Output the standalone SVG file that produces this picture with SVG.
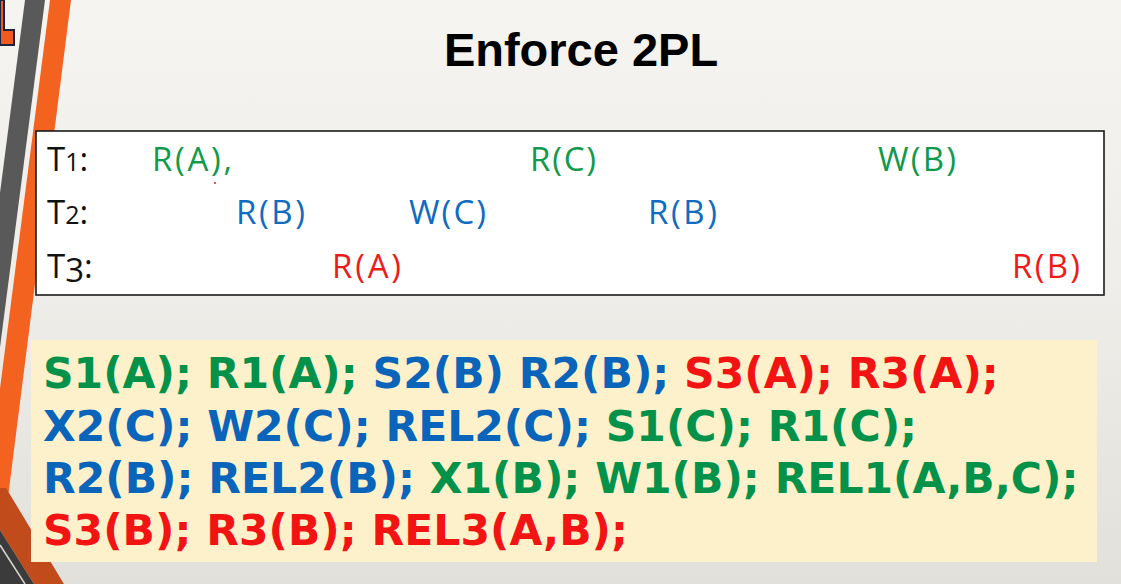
<svg xmlns="http://www.w3.org/2000/svg" width="1121" height="584" viewBox="0 0 1121 584">
  <defs>
    <linearGradient id="bg" x1="0" y1="0" x2="0" y2="1">
      <stop offset="0" stop-color="#f5f4f1"/>
      <stop offset="0.5" stop-color="#eeede9"/>
      <stop offset="1" stop-color="#e2e0db"/>
    </linearGradient>
    <style>
      .title { font-family: "Liberation Sans", Arial, sans-serif; font-weight: bold; font-size: 47px; fill: #000; }
      .lbl { font-family: "Open Sans", "Noto Sans", sans-serif; font-size: 33px; }
      .tx { fill: #111; }
      .g { fill: #119a4c; }
      .b { fill: #0f6cc0; }
      .r { fill: #ee1b1b; }
      .sched { font-family: "DejaVu Sans", Verdana, sans-serif; font-weight: bold; font-size: 42.5px; }
      .sg { fill: #04924a; }
      .sb { fill: #0a64b9; }
      .sr { fill: #f21313; }
    </style>
  </defs>

  <!-- slide background -->
  <rect width="1121" height="584" fill="url(#bg)"/>

  <!-- left decorative stripes -->
  <g id="decor">
    <path d="M0,0 H4 V30 H14 V45 H0 Z" fill="#f05a1e" stroke="#1c2440" stroke-width="2"/>
    <polygon points="25,0 45,0 -12,440 -32,440" fill="#595959"/>
    <polygon points="50,0 71,0 7,505 -15,505" fill="#f4621f"/>
    <polygon points="0,488 6,488 64,584 34,584 0,530" fill="#c24b1b"/>
    <polygon points="0,530 34,584 0,584" fill="#3b3b3b"/>
    <line x1="0" y1="545" x2="25" y2="584" stroke="#d9d6d0" stroke-width="1.5"/>
  </g>

  <!-- heading -->
  <text class="title" x="581" y="66" text-anchor="middle">Enforce 2PL</text>

  <!-- transaction operations table -->
  <g id="table">
    <rect x="36" y="131" width="1068" height="164" fill="#ffffff" stroke="#1a1a1a" stroke-width="1.6"/>
    <text class="lbl tx" x="47" y="171">T<tspan font-size="25">1</tspan>:</text>
    <text class="lbl tx" x="47" y="224">T<tspan font-size="25">2</tspan>:</text>
    <text class="lbl tx" x="47" y="278">T<tspan dy="4">3</tspan><tspan dy="-4">:</tspan></text>

    <g id="t1-ops">
      <text class="lbl g" x="152" y="171" textLength="80" lengthAdjust="spacing">R(A),</text>
      <circle cx="215" cy="183" r="1" fill="#e02020"/>
      <text class="lbl g" x="530" y="171" textLength="66" lengthAdjust="spacing">R(C)</text>
      <text class="lbl g" x="878" y="171" textLength="78" lengthAdjust="spacing">W(B)</text>
    </g>
    <g id="t2-ops">
      <text class="lbl b" x="236" y="224" textLength="69" lengthAdjust="spacing">R(B)</text>
      <text class="lbl b" x="409" y="224" textLength="77" lengthAdjust="spacing">W(C)</text>
      <text class="lbl b" x="648" y="224" textLength="69" lengthAdjust="spacing">R(B)</text>
    </g>
    <g id="t3-ops">
      <text class="lbl r" x="332" y="278" textLength="69" lengthAdjust="spacing">R(A)</text>
      <text class="lbl r" x="1012" y="278" textLength="68" lengthAdjust="spacing">R(B)</text>
    </g>
  </g>

  <!-- resulting schedule with lock operations -->
  <g id="schedule">
    <rect x="31" y="340" width="1066" height="222" fill="#fdf1cb"/>
    <text class="sched" x="43" y="388"><tspan class="sg">S1(A); R1(A); </tspan><tspan class="sb">S2(B) R2(B); </tspan><tspan class="sr">S3(A); R3(A);</tspan></text>
    <text class="sched" x="43" y="441"><tspan class="sb">X2(C); W2(C); REL2(C); </tspan><tspan class="sg">S1(C); R1(C);</tspan></text>
    <text class="sched" x="43" y="493"><tspan class="sb">R2(B); REL2(B); </tspan><tspan class="sg">X1(B); W1(B); REL1(A,B,C);</tspan></text>
    <text class="sched" x="43" y="545"><tspan class="sr">S3(B); R3(B); REL3(A,B);</tspan></text>
  </g>
</svg>
